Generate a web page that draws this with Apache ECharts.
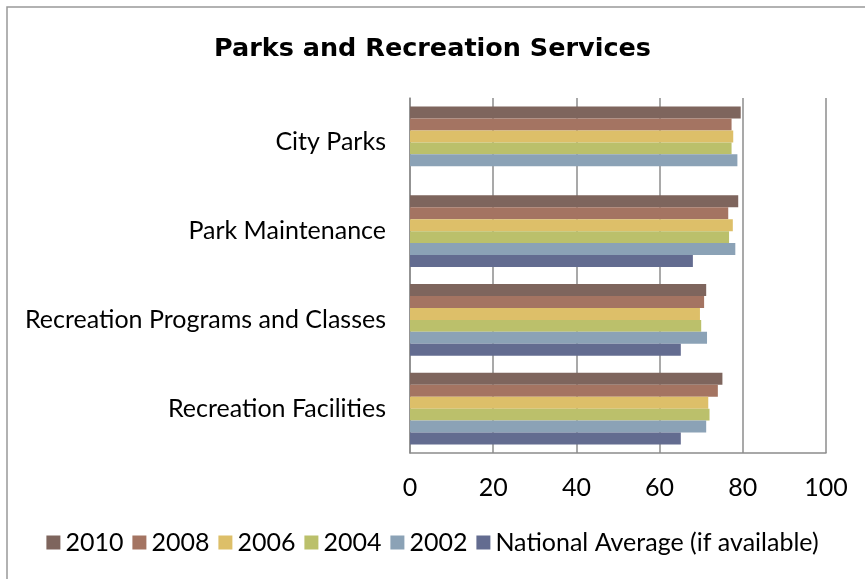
<!DOCTYPE html>
<html>
<head>
<meta charset="utf-8">
<script src="https://cdn.jsdelivr.net/npm/echarts@6/dist/echarts.min.js"></script>
<style>
  html, body { margin: 0; padding: 0; background: #fff; }
  #chart { width: 865px; height: 579px; }
</style>
</head>
<body>
<div id="chart"></div>
<script>
// Survey ratings for parks and recreation services, by year
const categories = ['City Parks', 'Park Maintenance', 'Recreation Programs and Classes', 'Recreation Facilities'];
const seriesNames = ['2010', '2008', '2006', '2004', '2002', 'National Average (if available)'];
const values2010 = [79.5, 78.9, 71.2, 75.1];
const values2008 = [77.3, 76.5, 70.7, 74.0];
const values2006 = [77.7, 77.6, 69.7, 71.7];
const values2004 = [77.3, 76.7, 70.0, 72.0];
const values2002 = [78.7, 78.2, 71.4, 71.2];
const valuesNational = [null, 68.0, 65.1, 65.1];
const xTicks = [0, 20, 40, 60, 80, 100];

const colors = ['#7E655D', '#A47462', '#DDBF69', '#BBC06B', '#8BA2B6', '#636C90'];
const seriesValues = [values2010, values2008, values2006, values2004, values2002, valuesNational];
const FONT = 'Lato, "Open Sans", sans-serif';

const chart = echarts.init(document.getElementById('chart'), null, { renderer: 'canvas' });

chart.setOption({
  animation: false,
  backgroundColor: '#fff',
  color: colors,
  title: {
    text: 'Parks and Recreation Services',
    left: 'center',
    top: 31,
    textStyle: { fontFamily: '"DejaVu Sans", sans-serif', fontWeight: 'bold', fontSize: 25.5, color: '#000' }
  },
  graphic: [{
    type: 'rect',
    shape: { x: 7, y: 7, width: 870, height: 590 },
    style: { fill: 'none', stroke: '#999', lineWidth: 1.5 },
    silent: true
  }],
  legend: {
    top: 525,
    left: 'center',
    itemWidth: 14,
    itemHeight: 14,
    itemGap: 9,
    icon: 'rect',
    textStyle: { fontFamily: FONT, fontSize: 25, color: '#000' },
    data: seriesNames
  },
  grid: { left: 410, right: 39, top: 98, bottom: 126, containLabel: false },
  xAxis: {
    type: 'value',
    min: xTicks[0],
    max: xTicks[xTicks.length - 1],
    interval: 20,
    axisLine: { show: true, lineStyle: { color: '#8c8c8c', width: 1.5 } },
    axisTick: { show: false },
    splitLine: { show: true, lineStyle: { color: '#8c8c8c', width: 1.5 } },
    axisLabel: { fontFamily: FONT, fontSize: 25, color: '#000', margin: 22 }
  },
  yAxis: {
    type: 'category',
    inverse: true,
    data: categories,
    axisLine: { show: true, lineStyle: { color: '#8c8c8c', width: 1.5 } },
    axisTick: { show: false },
    axisLabel: { fontFamily: FONT, fontSize: 25, color: '#000', margin: 24 }
  },
  series: seriesNames.map((name, i) => ({
    name: name,
    type: 'bar',
    data: seriesValues[i],
    barGap: '0%',
    barCategoryGap: '19%',
    itemStyle: { color: colors[i] }
  }))
});
</script>
</body>
</html>
